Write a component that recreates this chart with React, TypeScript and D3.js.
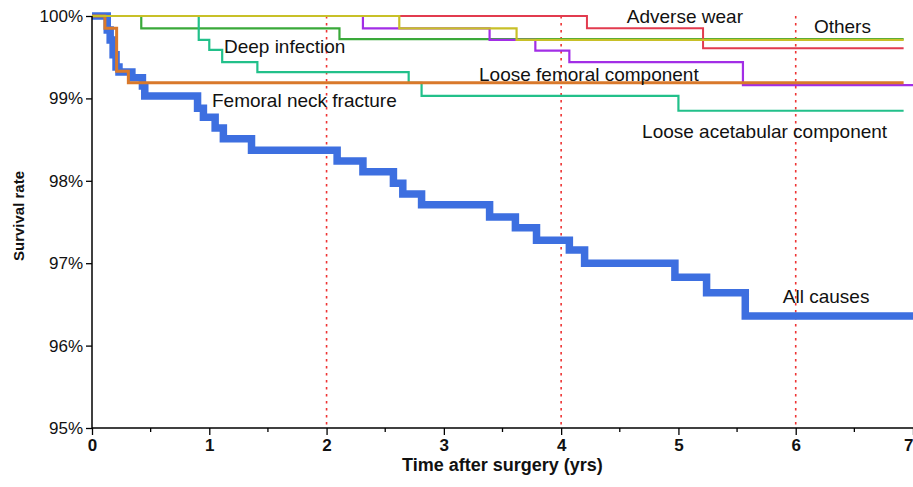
import React, { useEffect, useRef } from 'react';
import * as d3 from 'd3';

// Kaplan-Meier survival estimates (time in years, survival in %)
const allCausesTime = [0, 0.13, 0.155, 0.18, 0.205, 0.23, 0.34, 0.43, 0.45, 0.9, 0.95, 1.05, 1.12, 1.36, 2.09, 2.31, 2.57, 2.65, 2.81, 3.39, 3.61, 3.79, 4.07, 4.2, 4.97, 5.24, 5.57, 7];
const allCausesSurv = [100, 99.83, 99.71, 99.53, 99.38, 99.32, 99.25, 99.15, 99.03, 98.88, 98.77, 98.64, 98.51, 98.37, 98.24, 98.11, 97.97, 97.84, 97.71, 97.56, 97.43, 97.28, 97.16, 97.0, 96.83, 96.64, 96.36, 96.36];

const deepInfectionTime = [0, 0.42, 2.11, 6.92];
const deepInfectionSurv = [100, 99.85, 99.72, 99.72];

const acetabularTime = [0, 0.91, 1.0, 1.11, 1.41, 2.7, 2.81, 5.0, 6.92];
const acetabularSurv = [100, 99.71, 99.59, 99.44, 99.32, 99.19, 99.03, 98.85, 98.85];

const femoralCompTime = [0, 2.31, 3.39, 3.78, 4.07, 5.55, 7];
const femoralCompSurv = [100, 99.85, 99.71, 99.58, 99.44, 99.16, 99.16];

const adverseWearTime = [0, 4.22, 5.21, 6.92];
const adverseWearSurv = [100, 99.85, 99.61, 99.61];

const neckFractureTime = [0, 0.11, 0.21, 0.31, 6.92];
const neckFractureSurv = [100, 99.85, 99.33, 99.19, 99.19];

const othersTime = [0, 2.62, 3.62, 6.92];
const othersSurv = [100, 99.85, 99.71, 99.71];

const yTicks = [95, 96, 97, 98, 99, 100];
const xTicks = [0, 1, 2, 3, 4, 5, 6, 7];
const xMinorTicks = [0.5, 1.5, 2.5, 3.5, 4.5, 5.5, 6.5];
const refLines = [2, 4, 6];

// label anchors in data units (time, survival)
const labels: [string, number, number][] = [
  ['Adverse wear', 4.56, 99.915],
  ['Others', 6.155, 99.79],
  ['Deep infection', 1.125, 99.55],
  ['Loose femoral component', 3.3, 99.21],
  ['Femoral neck fracture', 1.023, 98.9],
  ['Loose acetabular component', 4.69, 98.52],
  ['All causes', 5.89, 96.52],
];

const App = () => {
  const svgRef = useRef<SVGSVGElement>(null);

  useEffect(() => {
    const W = 913;
    const H = 487;
    const svg = d3.select(svgRef.current);
    svg.selectAll('*').remove();

    const x = d3.scaleLinear().domain([0, 7]).range([92, 913]);
    const y = d3.scaleLinear().domain([95, 100]).range([428, 16]);

    // dotted reference lines
    svg.selectAll('.ref')
      .data(refLines)
      .enter()
      .append('line')
      .attr('x1', d => x(d))
      .attr('x2', d => x(d))
      .attr('y1', y(100))
      .attr('y2', y(95))
      .attr('stroke', '#ee3333')
      .attr('stroke-width', 1.6)
      .attr('stroke-dasharray', '2.5,4.5');

    const line = (t: number[], s: number[]) =>
      d3.line<number>()
        .x((d, i) => x(t[i]))
        .y(d => y(d))
        .curve(d3.curveStepAfter)(s);

    // bottom to top drawing order
    const series = [
      { t: allCausesTime, s: allCausesSurv, color: '#3d6fe0', w: 7.5 },
      { t: deepInfectionTime, s: deepInfectionSurv, color: '#3aa93a', w: 2.2 },
      { t: acetabularTime, s: acetabularSurv, color: '#22c08a', w: 2.2 },
      { t: femoralCompTime, s: femoralCompSurv, color: '#a22ee6', w: 2.2 },
      { t: neckFractureTime, s: neckFractureSurv, color: '#d9792b', w: 3 },
      { t: adverseWearTime, s: adverseWearSurv, color: '#e23b4f', w: 2 },
      { t: othersTime, s: othersSurv, color: '#c8c028', w: 2.2 },
    ];

    series.forEach(sr => {
      svg.append('path')
        .attr('d', line(sr.t, sr.s))
        .attr('fill', 'none')
        .attr('stroke', sr.color)
        .attr('stroke-width', sr.w)
        .attr('stroke-linejoin', 'miter');
    });

    // y axis
    const yAxis = svg.append('g')
      .attr('transform', `translate(${x(0)},0)`)
      .call(d3.axisLeft(y).tickValues(yTicks).tickSize(6).tickFormat(d => `${d}%`));
    yAxis.select('.domain').attr('stroke', '#000').attr('stroke-width', 1.5).attr('d', `M0,${y(100)}V${y(95)}`);
    yAxis.selectAll('.tick line').attr('stroke-width', 1.3);
    yAxis.selectAll('.tick text')
      .attr('x', -9)
      .attr('fill', '#111')
      .style('font-family', '"Liberation Sans", Arial, sans-serif')
      .style('font-size', '17px');

    // x axis
    const xAxis = svg.append('g')
      .attr('transform', `translate(0,${y(95)})`)
      .call(d3.axisBottom(x).tickValues(xTicks).tickSize(7).tickFormat(d3.format('d')));
    xAxis.select('.domain').attr('stroke', '#000').attr('stroke-width', 1.5).attr('d', `M${x(0)},0H${x(7)}`);
    xAxis.selectAll('.tick line').attr('stroke-width', 1.3);
    xAxis.selectAll('.tick text')
      .attr('y', 11)
      .attr('fill', '#111')
      .attr('text-anchor', d => (d === 7 ? 'end' : 'middle'))
      .style('font-family', '"Liberation Sans Narrow", "Arial Narrow", sans-serif')
      .style('font-weight', 'bold')
      .style('font-size', '17px');

    svg.append('g')
      .attr('transform', `translate(0,${y(95)})`)
      .selectAll('line')
      .data(xMinorTicks)
      .enter()
      .append('line')
      .attr('x1', d => x(d))
      .attr('x2', d => x(d))
      .attr('y1', 0)
      .attr('y2', 4)
      .attr('stroke', '#000')
      .attr('stroke-width', 1.3);

    // axis titles
    svg.append('text')
      .attr('x', (x(0) + x(7)) / 2)
      .attr('y', 471)
      .attr('text-anchor', 'middle')
      .attr('fill', '#111')
      .style('font-family', '"Liberation Sans Narrow", "Arial Narrow", sans-serif')
      .style('font-weight', 'bold')
      .style('font-size', '18px')
      .text('Time after surgery (yrs)');

    svg.append('text')
      .attr('transform', `translate(24,${(y(100) + y(95)) / 2 - 6}) rotate(-90)`)
      .attr('text-anchor', 'middle')
      .attr('fill', '#111')
      .style('font-family', '"Liberation Sans", Arial, sans-serif')
      .style('font-weight', 'bold')
      .style('font-size', '15px')
      .text('Survival rate');

    // series labels
    svg.selectAll('.lbl')
      .data(labels)
      .enter()
      .append('text')
      .attr('x', d => x(d[1]))
      .attr('y', d => y(d[2]))
      .attr('fill', '#111')
      .style('font-family', '"Liberation Sans", Arial, sans-serif')
      .style('font-size', '19px')
      .text(d => d[0]);

    svg.attr('width', W).attr('height', H);
  }, []);

  return (
    <svg
      ref={svgRef}
      width={913}
      height={487}
      style={{ position: 'absolute', left: 0, top: 0, background: '#fff', display: 'block' }}
    />
  );
};

export default App;
